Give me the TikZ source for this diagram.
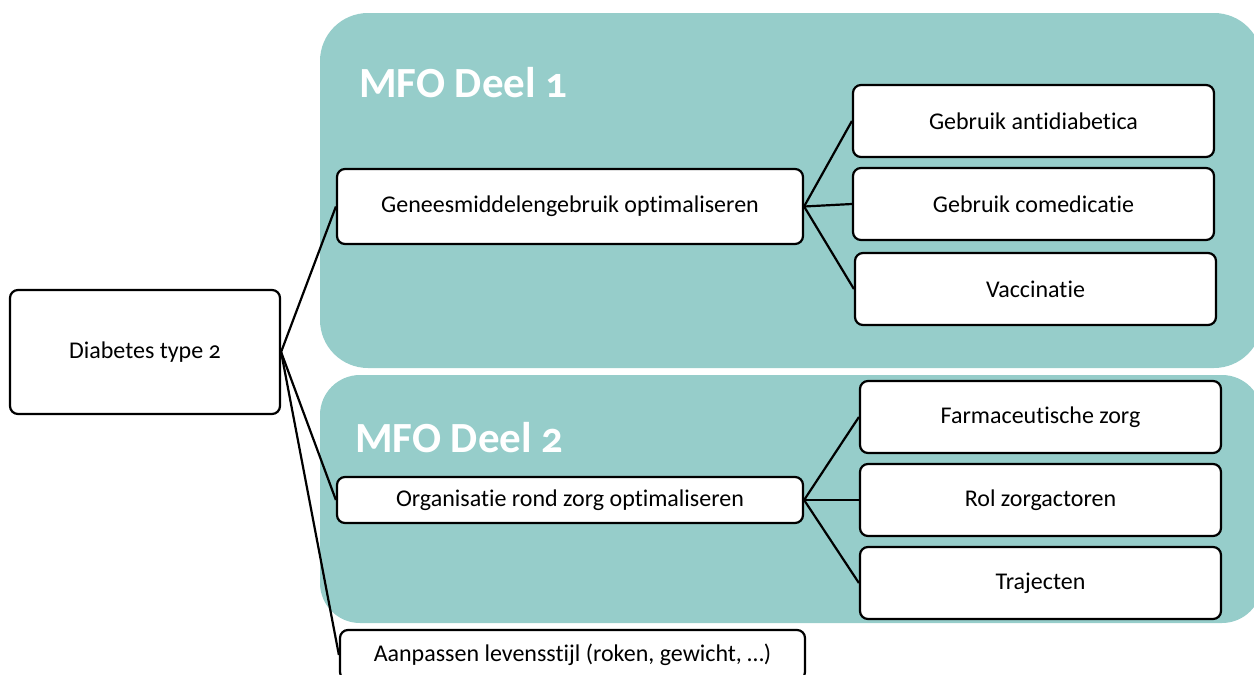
\documentclass[tikz,border=0pt]{standalone}
\usepackage{fontspec}
\setmainfont{Carlito}[Numbers=OldStyle, Ligatures={NoCommon}]
\definecolor{panel}{RGB}{150,205,202}
\tikzset{
  box/.style={draw=black, line width=2.2pt, fill=white, rounded corners=8pt, align=center, inner sep=0pt, font=\fontsize{24}{28}\selectfont},
  conn/.style={draw=black, line width=2.2pt},
  title/.style={text=white, font=\bfseries\fontsize{43}{48}\selectfont, anchor=base west, inner sep=0pt}
}
\begin{document}
\begin{tikzpicture}[x=1pt,y=-1pt]
\useasboundingbox (0,0) rectangle (1254,675);
\begin{scope}
\clip (0,0) rectangle (1254,675);
\fill[panel, rounded corners=48pt] (320,13) rectangle (1262,368);
\fill[panel, rounded corners=40pt] (320,375) rectangle (1262,623);
\end{scope}
\node[title] (t1) at (359,97) {MFO Deel 1};
\node[title] (t2) at (355,452) {MFO Deel 2};

\node[box, minimum width=270pt, minimum height=124pt] (dm) at (145,352) {Diabetes type 2};
\node[box, minimum width=466pt, minimum height=75pt] (gm) at (570,206.5) {Geneesmiddelengebruik optimaliseren};
\node[box, minimum width=361pt, minimum height=72pt] (a1) at (1033.5,121) {Gebruik antidiabetica};
\node[box, minimum width=361pt, minimum height=72pt] (a2) at (1033.5,204) {Gebruik comedicatie};
\node[box, minimum width=361pt, minimum height=72pt] (a3) at (1035.5,289) {Vaccinatie};
\node[box, minimum width=466pt, minimum height=46pt] (oz) at (570,500) {Organisatie rond zorg optimaliseren};
\node[box, minimum width=361pt, minimum height=72pt] (b1) at (1040.5,417) {Farmaceutische zorg};
\node[box, minimum width=361pt, minimum height=72pt] (b2) at (1040.5,500) {Rol zorgactoren};
\node[box, minimum width=361pt, minimum height=72pt] (b3) at (1040.5,583) {Trajecten};
\node[box, minimum width=465pt, minimum height=50pt] (al) at (572.5,655) {Aanpassen levensstijl (roken, gewicht, \ldots)};

\draw[conn] (dm.east) -- (gm.west);
\draw[conn] (dm.east) -- (oz.west);
\draw[conn] (dm.east) -- (al.west);
\draw[conn] (gm.east) -- (a1.west);
\draw[conn] (gm.east) -- (a2.west);
\draw[conn] (gm.east) -- (a3.west);
\draw[conn] (oz.east) -- (b1.west);
\draw[conn] (oz.east) -- (b2.west);
\draw[conn] (oz.east) -- (b3.west);
\end{tikzpicture}
\end{document}
